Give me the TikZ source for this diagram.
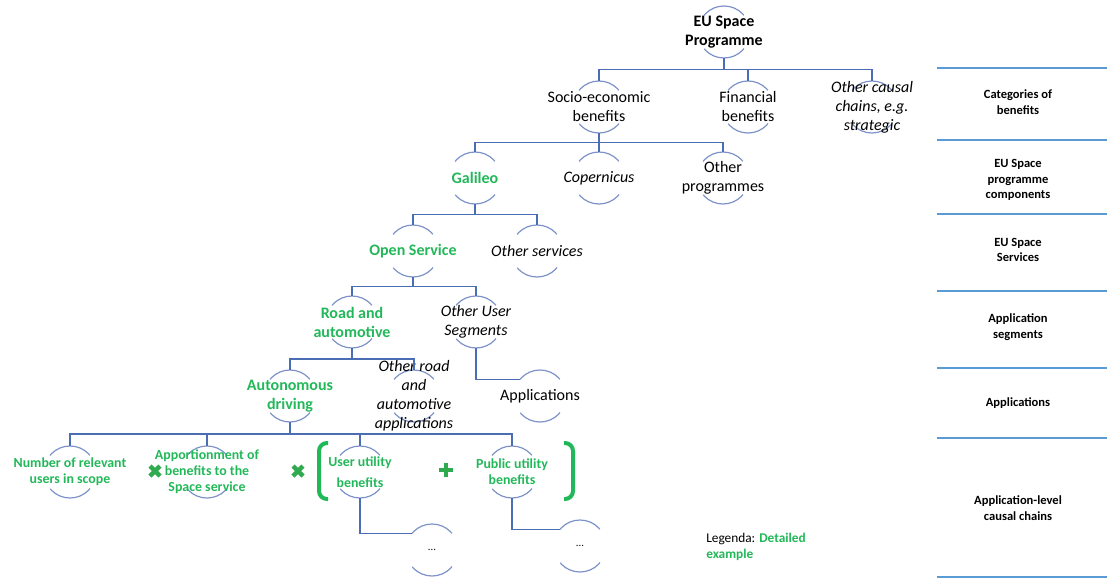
\documentclass[tikz,border=0pt]{standalone}
\usepackage{fontspec}
\setmainfont{Carlito}
\usepackage{xcolor}
\usepackage{tikz}
\usetikzlibrary{calc,positioning}

\definecolor{linkblue}{HTML}{4A6DB3}
\definecolor{ringblue}{HTML}{7D92C8}
\definecolor{ruleblue}{HTML}{5B9BD5}
\definecolor{detgreen}{HTML}{22B859}
\definecolor{signgreen}{HTML}{2FAA4F}

\tikzset{
  ring/.style={circle, minimum size=39pt, inner sep=0pt, outer sep=0pt,
    draw=ringblue, line width=0.9pt,
    dash pattern=on 34.03pt off 27.23pt, dash phase=47.65pt},
  main/.style={align=center, inner sep=0pt, font=\fontsize{12}{14.25}\selectfont},
  keytext/.style={main, text=detgreen, font=\fontsize{12}{14.25}\selectfont\bfseries},
  othertext/.style={main, font=\fontsize{12}{14.25}\selectfont\itshape},
  chaintext/.style={main, text=detgreen, font=\fontsize{10.4}{12}\selectfont\bfseries},
  dotstext/.style={main, font=\fontsize{8}{10}\selectfont},
  levellabel/.style={align=center, inner sep=0pt, font=\fontsize{9.4}{11.6}\selectfont\bfseries},
  link/.style={draw=linkblue, line width=1.1pt},
  tree/.style={to path={|- ($(\tikztostart)!0.5!(\tikztotarget)$) -| (\tikztotarget)}},
  hang/.style={to path={|- (\tikztotarget)}},
  rule/.style={draw=ruleblue, line width=1pt},
  sign/.style={draw=signgreen, line width=3.2pt},
  brk/.style={draw=detgreen, line width=3pt, rounded corners=6pt}
}

\begin{document}
\begin{tikzpicture}[x=0.75pt, y=0.75pt]
    \useasboundingbox (0,0) rectangle (1107,-578);

    % Programme and categories of benefits
    \node[ring, label={[main, font=\fontsize{12}{14.25}\selectfont\bfseries]center:{EU Space\\Programme}}] (root) at (724,-32) {};
    \node[ring, label={[main]center:{Socio-economic\\benefits}}] (soc) at (599,-107) {};
    \node[ring, label={[main]center:{Financial\\benefits}}] (fin) at (748,-107) {};
    \node[ring, label={[othertext]center:{Other causal\\chains, e.g.\\strategic}}] (oth) at (872,-107) {};

    % Components
    \node[ring, label={[keytext]center:{Galileo}}] (gal) at (475,-178) {};
    \node[ring, label={[othertext]center:{Copernicus}}] (cop) at (599,-178) {};
    \node[ring, label={[main]center:{Other\\programmes}}] (opr) at (723,-178) {};

    % Services
    \node[ring, label={[keytext]center:{Open Service}}] (os) at (413,-251) {};
    \node[ring, label={[othertext]center:{Other services}}] (osv) at (537,-251) {};

    % Segments
    \node[ring, label={[keytext]center:{Road and\\automotive}}] (road) at (352,-322) {};
    \node[ring, label={[othertext]center:{Other User\\Segments}}] (ous) at (476,-322) {};

    % Applications
    \node[ring, label={[keytext]center:{Autonomous\\driving}}] (auto) at (290,-396) {};
    \node[ring, label={[othertext]center:{Other road\\and\\automotive\\applications}}] (ora) at (414,-396) {};
    \node[ring, label={[main]center:{Applications}}] (apps) at (540,-396) {};

    % Application-level causal chains
    \node[ring, label={[chaintext]center:{Number of relevant\\users in scope}}] (nru) at (70,-472) {};
    \node[ring, label={[chaintext]center:{Apportionment of\\benefits to the\\Space service}}] (app) at (207,-472) {};
    \node[ring, label={[chaintext]center:{User utility\\[4pt]benefits}}] (uub) at (360,-472) {};
    \node[ring, label={[chaintext]center:{Public utility\\benefits}}] (pub) at (512,-472) {};
    \node[ring, label={[dotstext]center:{...}}] (dot1) at (432,-550) {};
    \node[ring, label={[dotstext]center:{...}}] (dot2) at (580,-546) {};

    % Connectors
    \draw[link] (root.south) to[tree] (soc.north) (root.south) to[tree] (fin.north)
                (root.south) to[tree] (oth.north);
    \draw[link] (soc.south) to[tree] (gal.north) (soc.south) to[tree] (cop.north)
                (soc.south) to[tree] (opr.north);
    \draw[link] (gal.south) to[tree] (os.north) (gal.south) to[tree] (osv.north);
    \draw[link] (os.south) to[tree] (road.north) (os.south) to[tree] (ous.north);
    \draw[link] (road.south) to[tree] (auto.north) (road.south) to[tree] (ora.north);
    \draw[link] (ous.south) to[hang] (apps.140);
    \draw[link] (auto.south) to[tree] (nru.north) (auto.south) to[tree] (app.north)
                (auto.south) to[tree] (uub.north) (auto.south) to[tree] (pub.north);
    \draw[link] (uub.south) to[hang] (dot1.140);
    \draw[link] (pub.south) to[hang] (dot2.140);

    % Operators and brackets
    \draw[sign] (155,-471) ++(-5,-5) -- ++(10,10) ++(0,-10) -- ++(-10,10);
    \draw[sign] (298,-471) ++(-5,-5) -- ++(10,10) ++(0,-10) -- ++(-10,10);
    \draw[sign] (446,-470) ++(-7,0) -- ++(14,0) ++(-7,-7) -- ++(0,14);
    \draw[brk] (328,-443) -- (319,-443) -- (319,-499) -- (328,-499);
    \draw[brk] (564,-443) -- (573,-443) -- (573,-499) -- (564,-499);

    % Legend
    \node[anchor=west, align=left, inner sep=0pt, font=\fontsize{10}{12}\selectfont] (leg) at (706,-547)
        {Legenda: \textcolor{detgreen}{\textbf{Detailed}}\\\textcolor{detgreen}{\textbf{example}}};

    % Level column
    \foreach \y in {68,140,214,291,368,438,577}
        \draw[rule] (937,-\y) -- (1107,-\y);
    \node[levellabel] (catb) at (1018,-102) {Categories of\\benefits};
    \node[levellabel] (comp) at (1018,-180) {EU Space\\programme\\components};
    \node[levellabel] (serv) at (1018,-250) {EU Space\\Services};
    \node[levellabel] (segm) at (1018,-327) {Application\\segments};
    \node[levellabel] (appl) at (1018,-403) {Applications};
    \node[levellabel] (chain) at (1018,-508) {Application-level\\causal chains};
\end{tikzpicture}
\end{document}
